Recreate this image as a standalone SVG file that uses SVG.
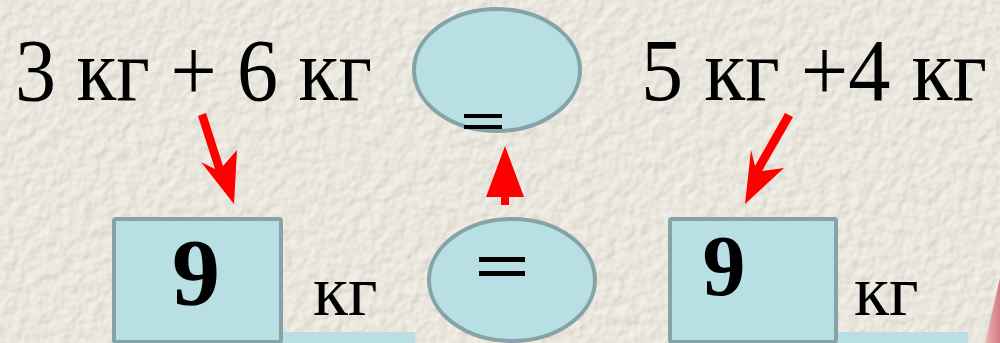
<svg xmlns="http://www.w3.org/2000/svg" width="1000" height="343" viewBox="0 0 1000 343">
<defs>
<filter id="tex" x="0" y="0" width="100%" height="100%">
<feTurbulence type="fractalNoise" baseFrequency="0.09" numOctaves="2" seed="3" result="n"/>
<feDiffuseLighting in="n" surfaceScale="1.4" lighting-color="#f8f5ec" result="l">
<feDistantLight azimuth="225" elevation="60"/>
</feDiffuseLighting>
<feComposite in="l" in2="SourceGraphic" operator="in"/>
</filter>
<linearGradient id="pink" x1="0" y1="0" x2="1" y2="0">
<stop offset="0" stop-color="#e9b8b8"/>
<stop offset="1" stop-color="#d57b82"/>
</linearGradient>
</defs>
<style>
.t{font-family:"Liberation Serif","Times New Roman",serif;fill:#000}
.n{font-family:"Liberation Serif","Times New Roman",serif;font-weight:bold;fill:#000}
.shape{fill:#b8dfe3;stroke:#86a3a8;stroke-width:4}
.strip{fill:#b8dfe3}
.eq{fill:#000}
.arr{fill:#ff0000}
</style>
<rect width="1000" height="343" fill="#f0ece2"/>
<rect width="1000" height="343" fill="#f0ece2" filter="url(#tex)" opacity="0.85"/>
<polygon points="985,343 1000,278 1000,343" fill="url(#pink)"/>

<g id="expr-left"><text class="t" x="15" y="100" font-size="88" textLength="357" lengthAdjust="spacingAndGlyphs">3 кг + 6 кг</text></g>
<g id="expr-right"><text class="t" x="641" y="100" font-size="88" textLength="346" lengthAdjust="spacingAndGlyphs">5 кг +4 кг</text></g>

<g id="ellipse-top">
<ellipse class="shape" cx="497" cy="70" rx="83" ry="61"/>
<rect class="eq" x="464" y="114" width="38" height="4"/>
<rect class="eq" x="464" y="125" width="38" height="4"/>
</g>

<g id="box-left">
<rect class="strip" x="282" y="332" width="133" height="11"/>
<rect class="shape" x="114" y="219" width="167" height="123" rx="2"/>
<text class="n" x="196" y="305" font-size="96" text-anchor="middle">9</text>
<text class="t" x="313" y="315" font-size="72">кг</text>
</g>

<g id="ellipse-bottom">
<ellipse class="shape" cx="512" cy="280" rx="83" ry="61"/>
<rect class="eq" x="479" y="257" width="46" height="5"/>
<rect class="eq" x="479" y="271" width="46" height="5"/>
</g>

<g id="box-right">
<rect class="strip" x="837" y="332" width="131" height="11"/>
<rect class="shape" x="670" y="219" width="166" height="123" rx="2"/>
<text class="n" x="724" y="295" font-size="86" text-anchor="middle">9</text>
<text class="t" x="854" y="315" font-size="72">кг</text>
</g>

<g id="connectors">
<polygon class="arr" points="198,116 206,113 223,166 237,150 234,204 201,162 215,169"/>
<polygon class="arr" points="785,113 793,117 762,171 784,168 745,204 751,150 755,166"/>
<polygon class="arr" points="501,205 509,205 509,197 524,197 505,146 486,197 501,197"/>
</g>
</svg>
